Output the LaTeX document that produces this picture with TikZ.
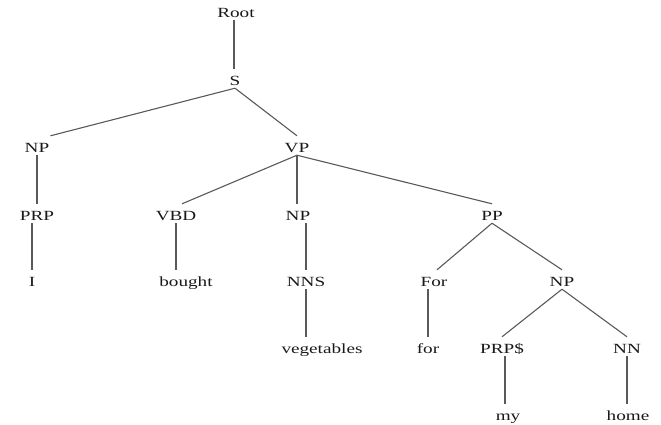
\documentclass[tikz,border=0pt]{standalone}
\usepackage{fontspec}
\setmainfont{Liberation Serif}[FakeStretch=1.37]
\begin{document}
\begin{tikzpicture}[x=1pt,y=-1pt,
  lbl/.style={anchor=base,font=\fontsize{14}{16}\selectfont,text height=15pt,text depth=2pt,inner sep=1pt,text=black!90},
  edge/.style={draw=black!65,line width=1.1pt}]
\useasboundingbox (0,0) rectangle (661,424);
\node[lbl] (Root) at (236,17) {Root};
\node[lbl] (S) at (235,85) {S};
\node[lbl] (NPa) at (37,152) {NP};
\node[lbl] (VP) at (297,152) {VP};
\node[lbl] (PRP) at (37,220) {PRP};
\node[lbl] (VBD) at (176,220) {VBD};
\node[lbl] (NPb) at (298,220) {NP};
\node[lbl] (PP) at (492,220) {PP};
\node[lbl] (I) at (32,286) {I};
\node[lbl] (bought) at (186,286) {bought};
\node[lbl] (NNS) at (306,286) {NNS};
\node[lbl] (For) at (434,286) {For};
\node[lbl] (NPc) at (562,286) {NP};
\node[lbl] (veg) at (322,353) {vegetables};
\node[lbl] (for) at (428,353) {for};
\node[lbl] (PRPS) at (502,353) {PRP\$};
\node[lbl] (NN) at (627,353) {NN};
\node[lbl] (my) at (508,420) {my};
\node[lbl] (home) at (628,420) {home};
\draw[edge] ([xshift=-1pt]S.north |- Root.south) -- ([xshift=-1pt]S.north);
\draw[edge] (S.south) -- (NPa.north east);
\draw[edge] (S.south) -- (VP.north);
\draw[edge] (NPa.south) -- (PRP.north);
\draw[edge] (VP.south) -- ([xshift=6pt]VBD.north);
\draw[edge] (VP.south) -- (VP.south |- NPb.north);
\draw[edge] (VP.south) -- (PP.north);
\draw[edge] (PRP.south -| I.north) -- (I.north);
\draw[edge] (VBD.south) -- (VBD.south |- bought.north);
\draw[edge] (NNS.north |- NPb.south) -- (NNS.north);
\draw[edge] (NNS.south) -- (NNS.south |- veg.north);
\draw[edge] (PP.south) -- ([xshift=3pt]For.north);
\draw[edge] (PP.south) -- (NPc.north);
\draw[edge] (for.north |- For.south) -- (for.north);
\draw[edge] (NPc.south) -- (PRPS.north);
\draw[edge] (NPc.south) -- (NN.north);
\draw[edge] ([xshift=3pt]PRPS.south) -- ([xshift=3pt]PRPS.south |- my.north);
\draw[edge] (NN.south) -- (NN.south |- home.north);
\end{tikzpicture}
\end{document}
